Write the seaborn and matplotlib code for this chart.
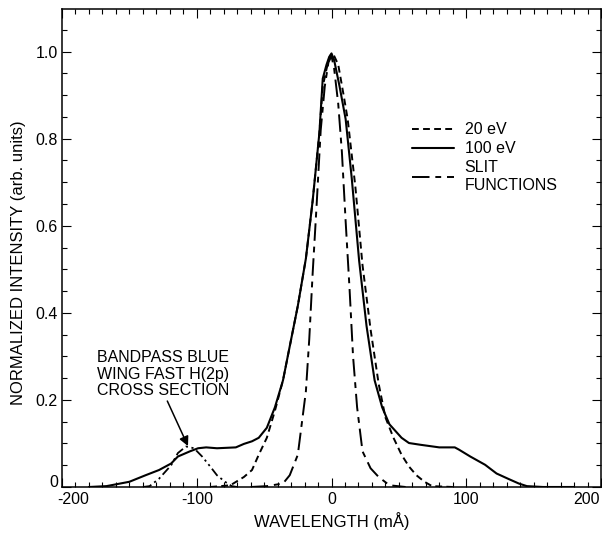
import numpy as np
import pandas as pd
import matplotlib
matplotlib.use("Agg")
import matplotlib.pyplot as plt
from matplotlib.ticker import MultipleLocator
from matplotlib.transforms import ScaledTranslation
import seaborn as sns

# ---- data ----
x_100 = [-180, -167, -150, -138, -128, -119, -114, -105, -99, -93, -85, -71, -65, -59, -54, -48,
         -42, -36, -31, -25, -19, -14, -9, -6.5, -3.7, -1.7, 0, 2, 6, 10.5, 15, 20.5, 26, 32,
         37.6, 43, 52, 57.5, 66, 80, 91.5, 94.5, 103, 114, 122.5, 131, 139, 145, 157, 180]
y_100 = [0.0, 0.002, 0.012, 0.027, 0.039, 0.054, 0.07, 0.082, 0.089, 0.091, 0.089, 0.091, 0.099,
         0.105, 0.113, 0.136, 0.183, 0.245, 0.323, 0.416, 0.525, 0.657, 0.813, 0.938, 0.97, 0.988,
         0.996, 0.98, 0.92, 0.845, 0.71, 0.52, 0.37, 0.245, 0.183, 0.144, 0.113, 0.101, 0.097,
         0.091, 0.091, 0.086, 0.07, 0.051, 0.031, 0.019, 0.008, 0.002, 0.0, 0.0]

x_20 = [-90, -75, -65, -59, -54, -48, -42, -36, -31, -25, -19, -14, -9, -6.5, -3.7, -1.7, 0, 2,
        5, 9, 12, 17.7, 23, 29, 35, 40, 46, 52, 57.5, 63, 69, 74.6, 90]
y_20 = [0.0, 0.004, 0.023, 0.039, 0.074, 0.113, 0.175, 0.245, 0.323, 0.416, 0.525, 0.657, 0.813,
        0.92, 0.96, 0.985, 0.996, 0.99, 0.97, 0.9, 0.845, 0.69, 0.51, 0.362, 0.237, 0.16, 0.113,
        0.074, 0.047, 0.027, 0.012, 0.002, 0.0]

x_slit = [-60, -48, -36, -31, -25, -19, -16.5, -14, -11, -8, -5, -2.3, 0, 2, 5, 7.7, 10.5, 13.4,
          16, 19, 23, 29, 35, 43, 55]
y_slit = [0.0, 0.002, 0.008, 0.027, 0.074, 0.22, 0.34, 0.49, 0.65, 0.82, 0.92, 0.975, 0.99, 0.96,
          0.88, 0.77, 0.61, 0.455, 0.30, 0.183, 0.082, 0.043, 0.023, 0.004, 0.0]

x_wing = [-140, -135, -128, -119, -114, -108, -102, -96, -90, -85, -79, -74, -70]
y_wing = [0.0, 0.002, 0.019, 0.05, 0.078, 0.093, 0.089, 0.07, 0.047, 0.027, 0.012, 0.002, 0.0]

labels = ["20 eV", "100 eV", "SLIT\nFUNCTIONS"]
annot_text = "BANDPASS BLUE\nWING FAST H(2p)\nCROSS SECTION"
x_ticks = [-200, -100, 0, 100, 200]
y_ticks = [0, 0.2, 0.4, 0.6, 0.8, 1.0]
y_ticklabels = ["0", "0.2", "0.4", "0.6", "0.8", "1.0"]

# ---- style ----
sns.set_style("ticks")
plt.rcParams["font.family"] = ["Liberation Sans", "DejaVu Sans"]
plt.rcParams["text.color"] = "black"
plt.rcParams["axes.labelcolor"] = "black"

fig = plt.figure(figsize=(6.02, 5.33), dpi=100)
ax = fig.add_axes([62 / 602, 1 - 487 / 533, 539 / 602, 478 / 533])

df20 = pd.DataFrame({"x": x_20, "y": y_20})
df100 = pd.DataFrame({"x": x_100, "y": y_100})
dfs = pd.DataFrame({"x": x_slit, "y": y_slit})
dfw = pd.DataFrame({"x": x_wing, "y": y_wing})

sns.lineplot(data=df20, x="x", y="y", ax=ax, color="black", lw=1.4,
             linestyle=(0, (3.5, 2.2)), label=labels[0], sort=False)
sns.lineplot(data=df100, x="x", y="y", ax=ax, color="black", lw=1.5,
             linestyle="-", label=labels[1], sort=False)
sns.lineplot(data=dfs, x="x", y="y", ax=ax, color="black", lw=1.4,
             linestyle=(0, (9, 3, 3, 3)), label=labels[2], sort=False)
sns.lineplot(data=dfw, x="x", y="y", ax=ax, color="black", lw=1.3,
             linestyle=(0, (5, 2, 1.2, 2, 1.2, 2)), sort=False, legend=False)

ax.set_xlim(-200, 200)
ax.set_ylim(0, 1.098)
ax.set_xticks(x_ticks)
ax.set_xticklabels([str(v) for v in x_ticks])
ax.set_yticks(y_ticks)
ax.set_yticklabels(y_ticklabels)
ax.xaxis.set_minor_locator(MultipleLocator(10))
ax.yaxis.set_minor_locator(MultipleLocator(0.05))
ax.tick_params(which="both", direction="in", top=True, right=True, labelsize=11.5,
               width=0.8, colors="black")
ax.tick_params(which="major", length=6.8)
ax.tick_params(which="minor", length=3.6)
ax.tick_params(axis="y", which="major", pad=3)
for s in ax.spines.values():
    s.set_linewidth(1.1)
    s.set_color("black")

# nudge edge tick labels like the reference
xl = ax.get_xticklabels()
xl[0].set_transform(xl[0].get_transform() + ScaledTranslation(0.11, 0, fig.dpi_scale_trans))
xl[-1].set_transform(xl[-1].get_transform() + ScaledTranslation(-0.14, 0, fig.dpi_scale_trans))
yl = ax.get_yticklabels()
yl[0].set_transform(yl[0].get_transform() + ScaledTranslation(0, 0.06, fig.dpi_scale_trans))

ax.set_xlabel("WAVELENGTH (mÅ)", fontsize=12)
ax.xaxis.set_label_coords(0.5, -0.053)
ax.set_ylabel("NORMALIZED INTENSITY (arb. units)", fontsize=12)
ax.yaxis.set_label_coords(-0.066, 0.47)

leg = ax.legend(loc="upper left", bbox_to_anchor=(0.6375, 0.776), frameon=False,
                fontsize=11.5, handlelength=2.6, handletextpad=0.7, labelspacing=0.25,
                borderaxespad=0)
for t in leg.get_texts():
    t.set_color("black")

ax.annotate(annot_text, xy=(-106.5, 0.094), xytext=(-174, 0.205),
            fontsize=11.5, ha="left", va="bottom", linespacing=1.1,
            arrowprops=dict(arrowstyle="-|>", color="black", lw=1.1,
                            mutation_scale=14, shrinkA=0, shrinkB=0,
                            relpos=(0.52, 0.0)))

fig.savefig("out.png", dpi=100)
